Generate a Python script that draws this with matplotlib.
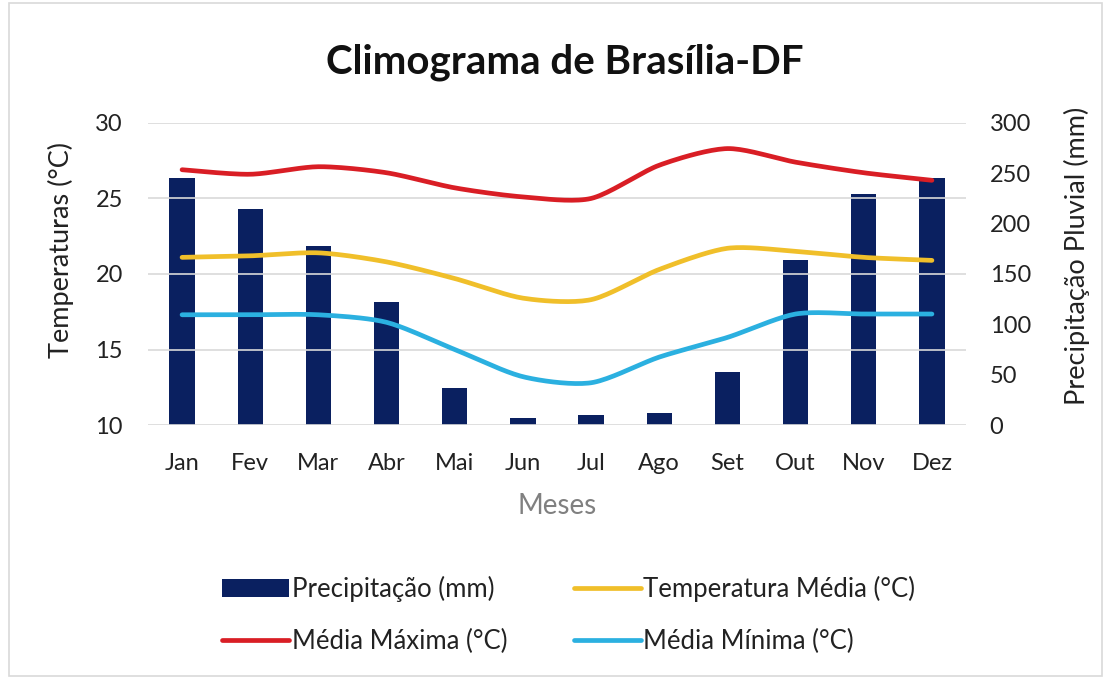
import numpy as np
import matplotlib
matplotlib.use("Agg")
import matplotlib.pyplot as plt
from matplotlib.patches import Rectangle

plt.rcParams['font.family'] = ['Lato', 'DejaVu Sans']

meses = ["Jan", "Fev", "Mar", "Abr", "Mai", "Jun", "Jul", "Ago", "Set", "Out", "Nov", "Dez"]
precipitacao = [245, 215, 178, 122, 37, 7, 10, 12, 53, 164, 229, 245]
media_maxima = [26.9, 26.6, 27.1, 26.7, 25.7, 25.1, 25.0, 27.2, 28.3, 27.4, 26.7, 26.2]
temp_media = [21.1, 21.2, 21.4, 20.8, 19.7, 18.4, 18.3, 20.3, 21.7, 21.5, 21.1, 20.9]
media_minima = [17.3, 17.3, 17.3, 16.8, 15.0, 13.2, 12.8, 14.5, 15.8, 17.35, 17.35, 17.35]


def smooth(x, y, n=20, t=0.4):
    x = np.asarray(x, float); y = np.asarray(y, float)
    px = np.concatenate([[x[0]], x, [x[-1]]]); py = np.concatenate([[y[0]], y, [y[-1]]])
    xs, ys = [], []
    for i in range(1, len(px) - 2):
        p0, p1, p2, p3 = (np.array([px[j], py[j]]) for j in (i - 1, i, i + 1, i + 2))
        m1 = t * (p2 - p0); m2 = t * (p3 - p1)
        s = np.linspace(0, 1, n, endpoint=(i == len(px) - 3))
        h00 = 2 * s**3 - 3 * s**2 + 1; h10 = s**3 - 2 * s**2 + s
        h01 = -2 * s**3 + 3 * s**2; h11 = s**3 - s**2
        pts = np.outer(h00, p1) + np.outer(h10, m1) + np.outer(h01, p2) + np.outer(h11, m2)
        xs.append(pts[:, 0]); ys.append(pts[:, 1])
    return np.concatenate(xs), np.concatenate(ys)


fig = plt.figure(figsize=(11.11, 6.79), dpi=100)
fig.patches.append(Rectangle((0.008, 0.005), 0.984, 0.99, transform=fig.transFigure,
                             fill=False, edgecolor='#d9d9d9', linewidth=1.2))

ax = fig.add_axes([0.1332, 0.374, 0.7363, 0.445])
ax2 = ax.twinx()

x = np.arange(len(meses))
navy = '#0a2060'
red = '#d91e25'
yellow = '#f0bf2a'
blue = '#2bb0e0'

bars = ax2.bar(x, precipitacao, width=0.37, color=navy, zorder=2, label='Precipitação (mm)')
ax2.set_ylim(0, 300)
ax2.set_yticks(range(0, 301, 50))

ax.set_zorder(ax2.get_zorder() + 1)
ax.patch.set_visible(False)

lw = 3.4
sx, sy = smooth(x, media_maxima)
l1, = ax.plot(sx, sy, color=red, lw=lw, solid_capstyle='round', label='Média Máxima (°C)')
sx, sy = smooth(x, temp_media)
l2, = ax.plot(sx, sy, color=yellow, lw=lw, solid_capstyle='round', label='Temperatura Média (°C)')
sx, sy = smooth(x, media_minima)
l3, = ax.plot(sx, sy, color=blue, lw=lw, solid_capstyle='round', label='Média Mínima (°C)')

ax.set_ylim(10, 30)
ax.set_yticks(range(10, 31, 5))
ax.set_xlim(-0.5, len(meses) - 0.5)
ax.set_xticks(x)
ax.set_xticklabels(meses)

for a in (ax, ax2):
    for s in a.spines.values():
        s.set_visible(False)
    a.tick_params(length=0, labelsize=17, colors='#222222')
ax.tick_params(axis='x', pad=20)
ax.tick_params(axis='y', pad=18)
ax2.tick_params(axis='y', pad=17)

ax.yaxis.grid(True, color='#d9d9d9', lw=1.2)
ax.set_axisbelow(True)
ax2.grid(False)

ax.set_ylabel('Temperaturas (°C)', fontsize=19.5, color='#222222')
ax.yaxis.set_label_coords(-0.09, 0.58)
ax2.set_ylabel('Precipitação Pluvial (mm)', fontsize=19.5, color='#222222')
ax2.yaxis.set_label_coords(1.12, 0.56)
ax.set_xlabel('Meses', fontsize=20, color='#808080', labelpad=14)

fig.text(0.508, 0.908, 'Climograma de Brasília-DF', ha='center', va='center',
         fontsize=29, fontweight='bold', color='#111111')

handles = [bars, l1, l2, l3]
labels = [h.get_label() for h in handles]
fig.legend(handles, labels, ncol=2, loc='center', bbox_to_anchor=(0.512, 0.094),
           frameon=False, fontsize=18.5, handlelength=2.6, handletextpad=0.1,
           columnspacing=2.6, labelspacing=1.05, labelcolor='#222222')

fig.savefig('out.png', dpi=100)
